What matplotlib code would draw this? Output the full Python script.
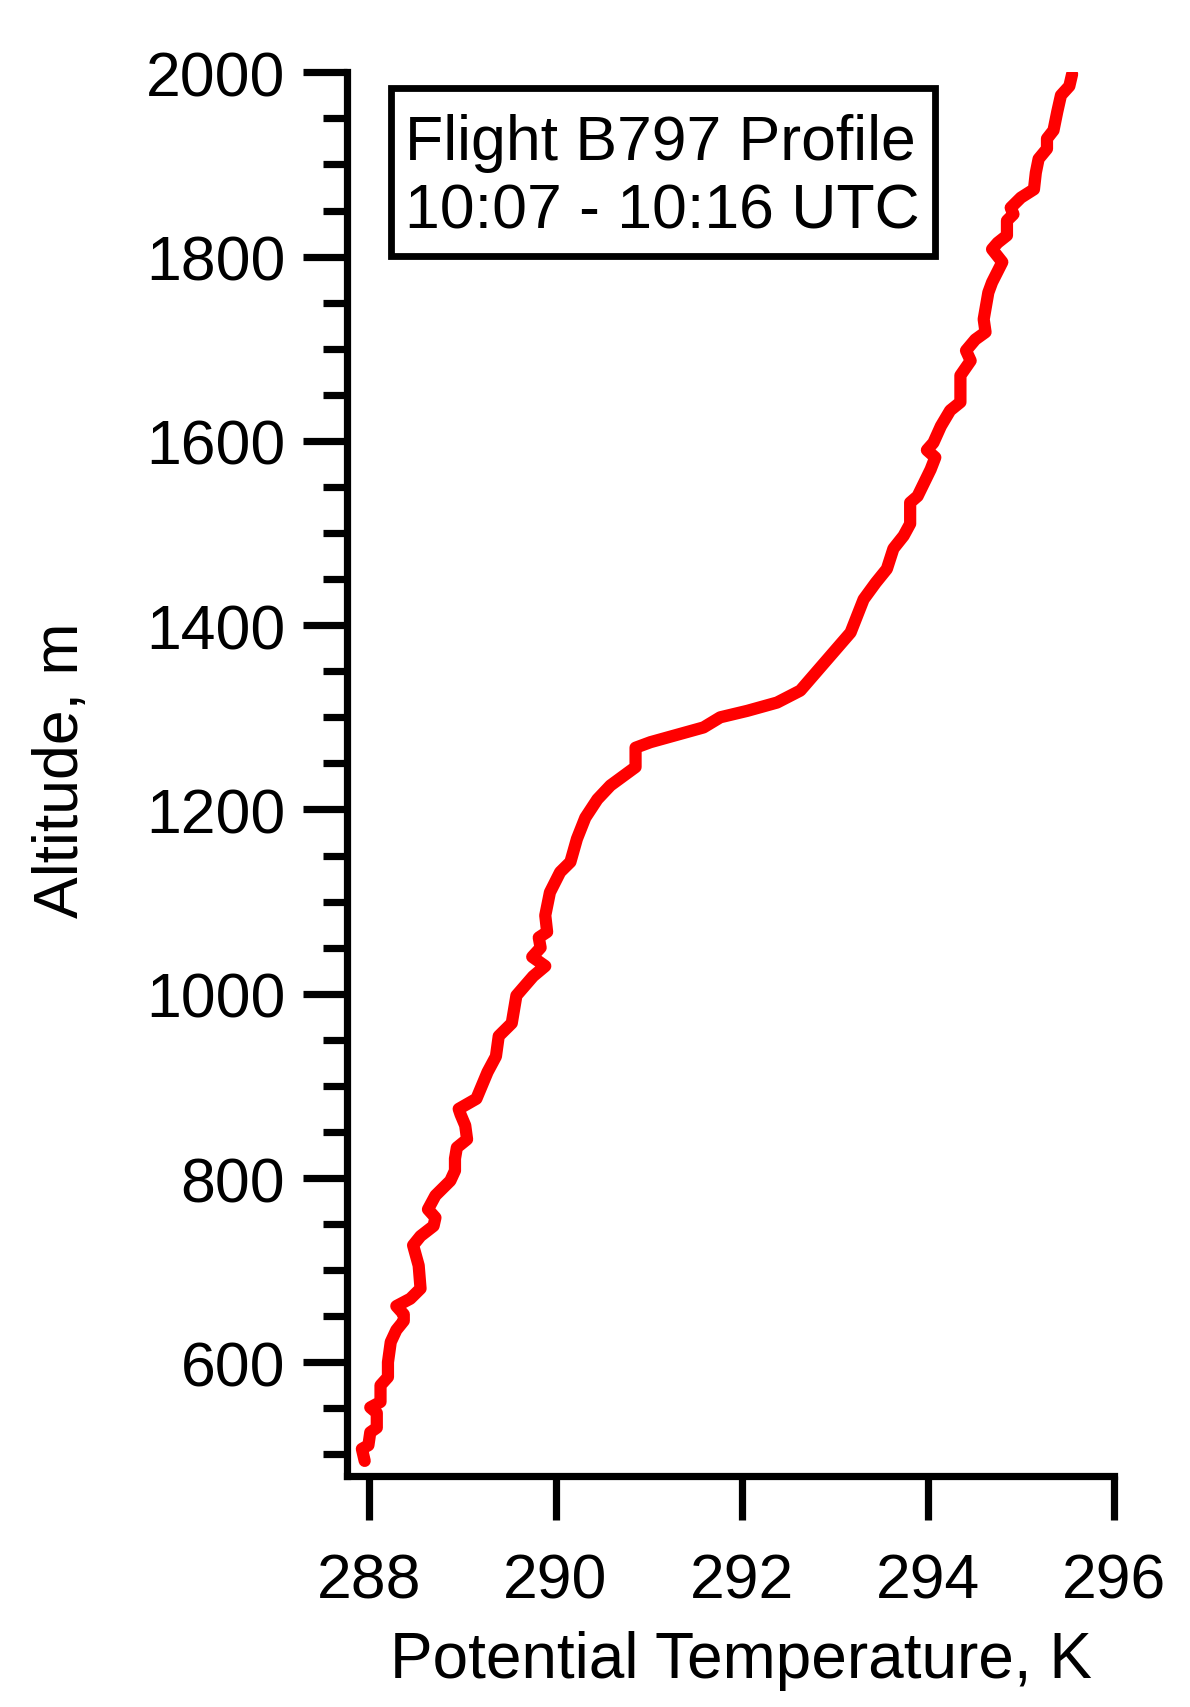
import matplotlib
matplotlib.use("Agg")
import matplotlib.pyplot as plt
from matplotlib.patches import Rectangle
from matplotlib.ticker import MultipleLocator

plt.rcParams['font.family'] = ['Liberation Sans', 'DejaVu Sans']

# potential temperature (K) and altitude (m)
theta = [287.95, 287.92, 287.99, 288.01, 288.08, 288.08, 288.01, 288.12, 288.12, 288.20,
         288.20, 288.23, 288.29, 288.37, 288.37, 288.29, 288.44, 288.55, 288.53, 288.47,
         288.55, 288.69, 288.71, 288.63, 288.71, 288.87, 288.92, 288.92, 288.94, 289.05,
         289.03, 288.98, 288.96, 289.15, 289.27, 289.36, 289.39, 289.53, 289.58, 289.76,
         289.89, 289.75, 289.84, 289.82, 289.91, 289.89, 289.94, 290.05, 290.16, 290.23,
         290.32, 290.45, 290.59, 290.86, 290.86, 291.02, 291.59, 291.77, 292.06, 292.38,
         292.63, 292.93, 293.17, 293.31, 293.44, 293.56, 293.63, 293.74, 293.81, 293.81,
         293.89, 294.03, 294.08, 293.99, 294.06, 294.14, 294.24, 294.35, 294.35, 294.46,
         294.41, 294.51, 294.62, 294.60, 294.65, 294.69, 294.80, 294.69, 294.75, 294.85,
         294.85, 294.92, 294.89, 295.00, 295.14, 295.16, 295.19, 295.28, 295.28, 295.35,
         295.39, 295.43, 295.52, 295.55]
alt = [493, 506, 510, 524, 529, 545, 551, 557, 575, 584,
       600, 622, 635, 645, 652, 661, 669, 680, 705, 727,
       737, 748, 757, 766, 781, 797, 808, 821, 833, 842,
       857, 869, 875, 886, 915, 932, 954, 968, 998, 1019,
       1030, 1040, 1050, 1061, 1067, 1085, 1110, 1132, 1143, 1168,
       1191, 1211, 1226, 1246, 1267, 1273, 1289, 1300, 1307, 1316,
       1329, 1364, 1392, 1428, 1446, 1461, 1483, 1497, 1510, 1533,
       1540, 1569, 1582, 1590, 1598, 1616, 1633, 1642, 1671, 1687,
       1698, 1710, 1718, 1732, 1761, 1772, 1794, 1808, 1815, 1823,
       1839, 1846, 1853, 1864, 1873, 1891, 1906, 1917, 1928, 1937,
       1957, 1975, 1985, 1998]

xticks = [288, 290, 292, 294, 296]
yticks = [600, 800, 1000, 1200, 1400, 1600, 1800, 2000]

W, H = 1190, 1708
fig = plt.figure(figsize=(W / 100, H / 100), dpi=100)
ax = fig.add_axes([347 / W, 1 - 1477 / H, (1114 - 347) / W, (1477 - 73.3) / H])

ax.plot(theta, alt, color='#ff0000', lw=8.8, solid_joinstyle='round', solid_capstyle='round')

ax.set_xlim(287.76, 296)
ax.set_ylim(476.6, 2000)
ax.set_xticks(xticks)
ax.set_yticks(yticks)
ax.yaxis.set_minor_locator(MultipleLocator(50))

for s in ['top', 'right']:
    ax.spines[s].set_visible(False)
for s in ['left', 'bottom']:
    ax.spines[s].set_linewidth(5.2)

ax.tick_params(axis='both', which='major', direction='out', width=5.2, length=31.5,
               labelsize=45, color='black')
ax.tick_params(axis='x', which='major', pad=23)
ax.tick_params(axis='y', which='major', pad=13)
ax.tick_params(axis='y', which='minor', direction='out', width=5.2, length=17.3)

# axis titles placed by hand
fig.text(741 / W, 1 - 1678 / H, 'Potential Temperature, K', fontsize=46,
         ha='center', va='baseline')
fig.text(78 / W, 1 - 770 / H, 'Altitude, m', fontsize=45, rotation=90,
         rotation_mode='anchor', ha='center', va='baseline')

# text box
fig.patches.append(Rectangle((390.7 / W, 1 - 256.7 / H), (935 - 390.7) / W, (256.7 - 89) / H,
                             transform=fig.transFigure, fill=False, ec='black', lw=4.9))
fig.text(405 / W, 1 - 160 / H, 'Flight B797 Profile', fontsize=45, ha='left', va='baseline')
fig.text(405 / W, 1 - 228.3 / H, '10:07 - 10:16 UTC', fontsize=45, ha='left', va='baseline')

fig.savefig('out.png', dpi=100)
